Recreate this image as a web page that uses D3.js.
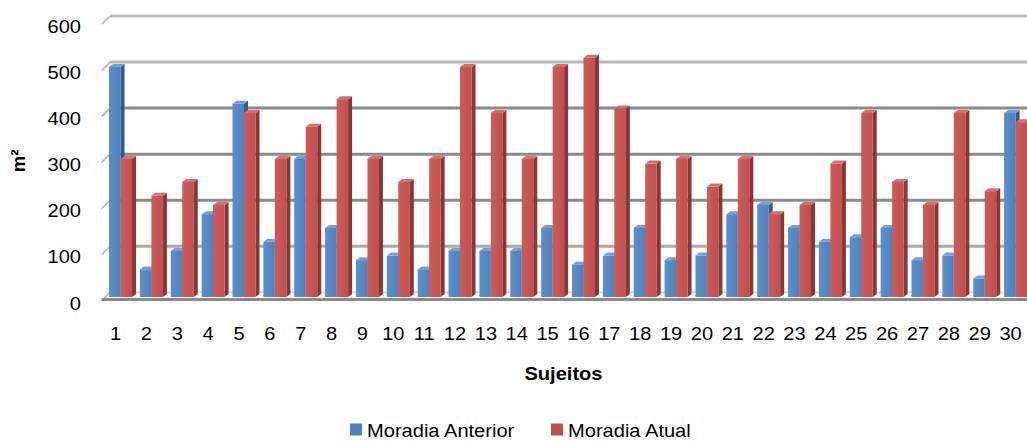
<!DOCTYPE html>
<html>
<head>
<meta charset="utf-8">
<script src="https://cdn.jsdelivr.net/npm/d3@7"></script>
<style>
  html, body { margin: 0; padding: 0; background: #ffffff; }
  svg { display: block; font-family: "Liberation Sans", Arial, sans-serif; }
</style>
</head>
<body>
<svg id="chart" width="1027" height="441"></svg>
<script>
// Subjects and floor area (m²) of previous and current home
const subjects = ["1","2","3","4","5","6","7","8","9","10","11","12","13","14","15",
                  "16","17","18","19","20","21","22","23","24","25","26","27","28","29","30"];
const seriesNames = ["Moradia Anterior", "Moradia Atual"];
const moradiaAnterior = [500, 60, 100, 180, 420, 120, 300, 150, 80, 90, 60, 100, 100, 100, 150,
                         70, 90, 150, 80, 90, 180, 200, 150, 120, 130, 150, 80, 90, 40, 400];
const moradiaAtual = [300, 220, 250, 200, 400, 300, 370, 430, 300, 250, 300, 500, 400, 300, 500,
                      520, 410, 290, 300, 240, 300, 180, 200, 290, 400, 250, 200, 400, 230, 380];
const yTicks = [0, 100, 200, 300, 400, 500, 600];

const svg = d3.select("#chart");
const FS = 18.6, SX = 1.08;          // font size and horizontal text stretch
const depth = { dx: 4, dy: 3 };      // 3D offset of bar side/top faces
const wall = { dx: 8.3, dy: 8.3 };   // depth of the back wall

// Scales: front plane for bars, back wall for gridlines
const yFront = d3.scaleLinear().domain([0, 600]).range([297, 21]);
const yBack = d3.scaleLinear().domain([0, 600]).range([292.3, 16]);
const x = d3.scaleBand().domain(subjects).range([105.1, 1031]).paddingInner(0.255).paddingOuter(0.1275);
const xs = d3.scaleBand().domain(seriesNames).range([0, x.bandwidth()]);

const colors = {
  "Moradia Anterior": { front: "#4f81bd", light: "#5d8fcb", side: "#2f5b8f", top: "#73a0d6" },
  "Moradia Atual":   { front: "#c0504d", light: "#cc5c59", side: "#8b3634", top: "#d76e6b" }
};

// Front-face gradients
const defs = svg.append("defs");
seriesNames.forEach((s, i) => {
  const g = defs.append("linearGradient").attr("id", "grad" + i)
    .attr("x1", "0").attr("x2", "1").attr("y1", "0").attr("y2", "0");
  g.append("stop").attr("offset", "0").attr("stop-color", colors[s].light);
  g.append("stop").attr("offset", "1").attr("stop-color", colors[s].front);
});

// Back wall gridlines with the short depth strokes at the left edge
const gridColor = { 0: "#d4d4d4", 100: "#a9a9a9", 200: "#8a8a8a", 300: "#8a8a8a", 400: "#8a8a8a", 500: "#b8b8b8", 600: "#bdbdbd" };
const wallLeft = 110;
const grid = svg.append("g");
yTicks.forEach(t => {
  const y = yBack(t);
  grid.append("line").attr("x1", wallLeft).attr("x2", 1027).attr("y1", y).attr("y2", y)
    .attr("stroke", gridColor[t]).attr("stroke-width", t === 0 ? 1.5 : 3);
  grid.append("line").attr("x1", wallLeft - wall.dx).attr("y1", y + wall.dy)
    .attr("x2", wallLeft).attr("y2", y)
    .attr("stroke", "#b0b0b0").attr("stroke-width", 1.5);
});

// Floor front edge
svg.append("line").attr("x1", 101.5).attr("x2", 1027).attr("y1", 299.5).attr("y2", 299.5)
  .attr("stroke", "#8a8a8a").attr("stroke-width", 3);

// Bars as 3D columns
const rows = subjects.map((s, i) => ({ s, values: [moradiaAnterior[i], moradiaAtual[i]] }));
const groups = svg.append("g").selectAll("g").data(rows).join("g")
  .attr("transform", d => `translate(${x(d.s)},0)`);

seriesNames.forEach((name, si) => {
  const w = xs.bandwidth();
  const bx = xs(name);
  const c = colors[name];
  const y0 = yFront(0);
  // side face
  groups.append("path")
    .attr("d", d => {
      const y = yFront(d.values[si]);
      return `M${bx + w},${y} L${bx + w + depth.dx},${y - depth.dy} L${bx + w + depth.dx},${y0 - depth.dy} L${bx + w},${y0} Z`;
    })
    .attr("fill", c.side);
  // top face
  groups.append("path")
    .attr("d", d => {
      const y = yFront(d.values[si]);
      return `M${bx},${y} L${bx + depth.dx},${y - depth.dy} L${bx + w + depth.dx},${y - depth.dy} L${bx + w},${y} Z`;
    })
    .attr("fill", c.top);
  // front face
  groups.append("rect")
    .attr("x", bx).attr("width", w)
    .attr("y", d => yFront(d.values[si]))
    .attr("height", d => y0 - yFront(d.values[si]))
    .attr("fill", `url(#grad${si})`);
});

// Y axis labels
const yAxis = d3.axisLeft(d3.scaleLinear().domain([0, 600]).range([yBack(0) + 10, yBack(600) + 10]))
  .tickValues(yTicks).tickSize(0).tickPadding(0);
const yg = svg.append("g").attr("transform", "translate(81,0)").call(yAxis);
yg.select(".domain").remove();
yg.selectAll("text")
  .attr("x", 0).attr("dy", "0.36em")
  .attr("font-size", FS).attr("font-family", "Liberation Sans, Arial, sans-serif")
  .attr("fill", "#000").attr("text-anchor", "end")
  .attr("transform", `scale(${SX},1)`);

// X axis labels
const xAxis = d3.axisBottom(x).tickSize(0).tickPadding(0);
const xg = svg.append("g").attr("transform", "translate(-5,340)").call(xAxis);
xg.select(".domain").remove();
xg.selectAll("text")
  .attr("y", 0).attr("dy", 0)
  .attr("font-size", FS).attr("font-family", "Liberation Sans, Arial, sans-serif")
  .attr("fill", "#000")
  .attr("transform", `scale(${SX},1)`);

// Axis titles
svg.append("text")
  .attr("transform", `translate(563.5,380) scale(${SX},1)`)
  .attr("text-anchor", "middle").attr("font-weight", "bold").attr("font-size", FS)
  .text("Sujeitos");
svg.append("text")
  .attr("transform", "translate(25,161) rotate(-90)")
  .attr("text-anchor", "middle").attr("font-weight", "bold").attr("font-size", FS)
  .text("m²");

// Legend
const legendPos = [{ sx: 350, tx: 367 }, { sx: 551, tx: 568 }];
const legend = svg.append("g");
seriesNames.forEach((name, i) => {
  legend.append("rect").attr("x", legendPos[i].sx).attr("y", 423.5).attr("width", 12).attr("height", 12)
    .attr("fill", colors[name].front);
  legend.append("text")
    .attr("transform", `translate(${legendPos[i].tx},437) scale(${SX},1)`)
    .attr("font-size", FS).attr("fill", "#000")
    .text(name);
});
</script>
</body>
</html>
